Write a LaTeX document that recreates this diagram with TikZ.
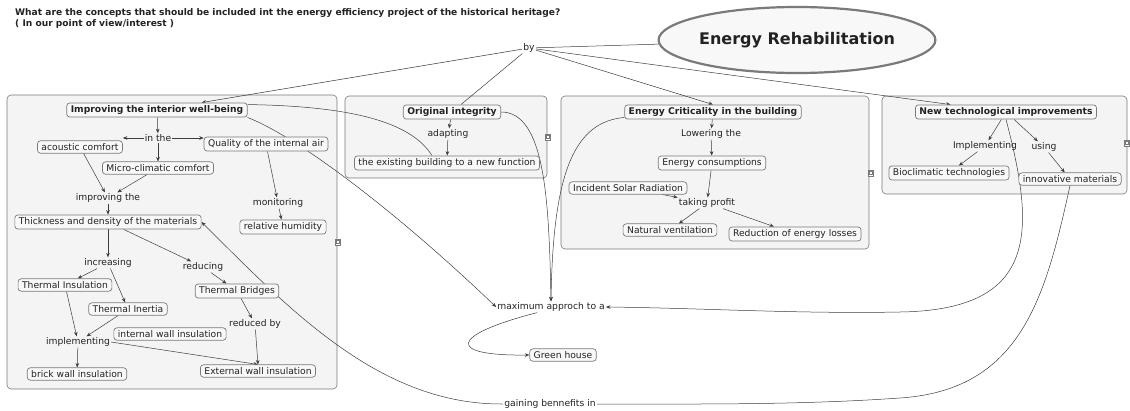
\documentclass[tikz,border=0pt]{standalone}
\usepackage{fontspec}
\setmainfont{DejaVu Sans}
\usetikzlibrary{arrows.meta,shapes.geometric,calc}
\pgfdeclarelayer{panels}
\pgfdeclarelayer{bg}
\pgfsetlayers{panels,bg,main}
\definecolor{ln}{HTML}{3C3C3C}
\definecolor{bd}{HTML}{7A7A7A}
\definecolor{pf}{HTML}{F4F4F4}
\definecolor{nf}{HTML}{F8F8F8}
\definecolor{tx}{HTML}{222222}
\begin{document}
\begin{tikzpicture}[x=1pt,y=-1pt,
 concept/.style={draw=bd, fill=nf, rounded corners=3pt, inner xsep=4pt, inner ysep=2.6pt, text=tx, font=\fontsize{9.2}{11}\selectfont, line width=0.7pt},
 bconcept/.style={concept, font=\fontsize{9.2}{11}\selectfont\bfseries},
 lab/.style={inner sep=1pt, text=tx, font=\fontsize{9.2}{11}\selectfont},
 panel/.style={draw=bd, fill=pf, rounded corners=4pt, line width=0.6pt},
 arr/.style={draw=ln, line width=0.5pt, -{Stealth[length=4.5pt,width=3.6pt]}},
 con/.style={draw=ln, line width=0.5pt},
 icon/.style={draw=bd, fill=white, line width=0.4pt, minimum width=5pt, minimum height=6pt, inner sep=0pt},
]
\useasboundingbox (0,0) rectangle (1130,410);

% title
\node[anchor=north west, inner sep=0pt, align=left, text=tx, font=\fontsize{9.1}{11}\selectfont\bfseries] (title) at (15,8)
 {What are the concepts that should be included int the energy efficiency project of the historical heritage?\\( In our point of view/interest )};

% panels
\begin{pgfonlayer}{panels}
\path[panel] (7,95) rectangle (337,389);
\path[panel] (345,96) rectangle (547,178);
\path[panel] (561,96) rectangle (869,249);
\path[panel] (882,96) rectangle (1127,194);
\end{pgfonlayer}

% main concept
\node[ellipse, draw=bd, line width=2.2pt, fill=nf, minimum width=217pt, minimum height=66pt, inner sep=0pt, text=tx, font=\fontsize{16}{18}\selectfont\bfseries] (er) at (797,40) {Energy Rehabilitation};
\node[lab] (by) at (529,48) {by};

% panel 1
\node[bconcept] (imp) at (157,110) {Improving the interior well-being};
\node[lab] (inthe) at (158,138) {in the};
\node[concept] (ac) at (80,147) {acoustic comfort};
\node[concept] (qa) at (266,144) {Quality of the internal air};
\node[concept] (mc) at (158,168) {Micro-climatic comfort};
\node[lab] (impr) at (108,198) {improving the};
\node[concept] (th) at (108,222) {Thickness and density of the materials};
\node[lab] (mon) at (278,203) {monitoring};
\node[concept] (rh) at (283,227) {relative humidity};
\node[lab] (inc) at (108,263) {increasing};
\node[lab] (red) at (203,267) {reducing};
\node[concept] (ti) at (65,285) {Thermal Insulation};
\node[concept] (tb) at (237,291) {Thermal Bridges};
\node[concept] (tin) at (128,309) {Thermal Inertia};
\node[lab] (redby) at (255,324) {reduced by};
\node[concept] (iwi) at (170,334) {internal wall insulation};
\node[lab] (impl) at (78,342) {implementing};
\node[concept] (bwi) at (77,374) {brick wall insulation};
\node[concept] (ewi) at (258,371) {External wall insulation};

% panel 2
\node[bconcept] (oi) at (452,112) {Original integrity};
\node[lab] (adp) at (448,134) {adapting};
\node[concept] (eb) at (447,163) {the existing building to a new function};

% panel 3
\node[bconcept] (ec) at (713,112) {Energy Criticality in the building};
\node[lab] (low) at (711,134) {Lowering the};
\node[concept] (ecs) at (712,163) {Energy consumptions};
\node[concept] (isr) at (628,188) {Incident Solar Radiation};
\node[lab] (tp) at (707,203) {taking profit};
\node[concept] (nv) at (670,230) {Natural ventilation};
\node[concept] (rel) at (795,234) {Reduction of energy losses};

% panel 4
\node[bconcept] (nt) at (1006,112) {New technological improvements};
\node[lab] (implg) at (985,146) {Implementing};
\node[lab] (using) at (1044,147) {using};
\node[concept] (bio) at (949,173) {Bioclimatic technologies};
\node[concept] (inm) at (1070,179) {innovative materials};

% outside
\node[lab] (max) at (551,307) {maximum approch to a};
\node[concept] (gh) at (563,355) {Green house};
\node[lab, fill=white] (gb) at (550,404) {gaining bennefits in};

% icons
\foreach \n/\p in {ic1/{(338,242)}, ic2/{(548,137)}, ic3/{(871,173)}, ic4/{(1127,143)}} {
  \node[icon] (\n) at \p {};
  \draw[bd, line width=0.3pt] ($(\n.center)+(-1.5,-1.5)$) rectangle ($(\n.center)+(1.5,1.5)$);
}

\begin{pgfonlayer}{bg}
% from the main concept
\draw[con] (er) -- (by);
\draw[arr] (by) -- (imp);
\draw[con] (by) -- (oi);
\draw[arr] (by) -- (ec.north);
\draw[arr] (by) -- (nt);

% panel 1
\draw[arr] (imp) -- (inthe);
\draw[arr] (inthe.west) -- (inthe.west -| ac.east);
\draw[arr] (inthe.east) -- (inthe.east -| qa.west);
\draw[arr] (inthe) -- (mc);
\draw[arr] (ac) -- (impr);
\draw[arr] (mc) -- (impr);
\draw[arr] (impr) -- (th);
\draw[arr] (qa) -- (mon);
\draw[arr] (mon) -- (rh);
\draw[arr] (th) -- (inc);
\draw[arr] (th) -- (red);
\draw[arr] (inc) -- (ti);
\draw[arr] (inc) -- (tin);
\draw[arr] (red) -- (tb);
\draw[arr] (tb) -- (redby);
\draw[arr] (redby) -- (ewi.north);
\draw[arr] (ti) -- (impl);
\draw[arr] (tin) -- (impl);
\draw[arr] (impl) -- (bwi);
\draw[arr] (impl.east) -- (ewi.north);

% panel 2
\draw[arr] (oi) -- (adp);
\draw[arr] (adp) -- (eb);

% panel 3
\draw[arr] (ec) -- (low);
\draw[arr] (low) -- (ecs);
\draw[arr] (ecs) -- (tp);
\draw[arr] (isr) -- (tp);
\draw[arr] (tp) -- (nv);
\draw[arr] (tp) -- (rel);

% panel 4
\draw[arr] (nt) -- (implg);
\draw[arr] (nt) -- (using);
\draw[arr] (implg) -- (bio);
\draw[arr] (using) -- (inm);

% long connectors
\draw[arr] (imp.south east) .. controls (300,138) and (400,215) .. (max.west);
\draw[con] ($(imp.north east)+(0,2)$) .. controls (345,106) and (410,120) .. ($(eb.north)+(-15,0)$);
\draw[arr] (oi.east) .. controls (545,112) and (549,200) .. (max.north);
\draw[arr] ($(ec.south west)+(0,-2)$) .. controls (575,122) and (553,170) .. (max.north);
\draw[arr] (nt.south) .. controls (1035,230) and (1040,310) .. (900,312) .. controls (800,314) and (700,308) .. (max.east);
\draw[arr] ($(max.south)+(-14,0)$) .. controls (450,335) and (445,356) .. (gh.west);
\draw[con] (inm.south) .. controls (1045,300) and (1020,390) .. (900,398) .. controls (800,405) and (700,404) .. (gb.east);
\draw[arr] (gb.west) .. controls (380,405) and (290,310) .. (th.east);
\end{pgfonlayer}
\end{tikzpicture}
\end{document}
